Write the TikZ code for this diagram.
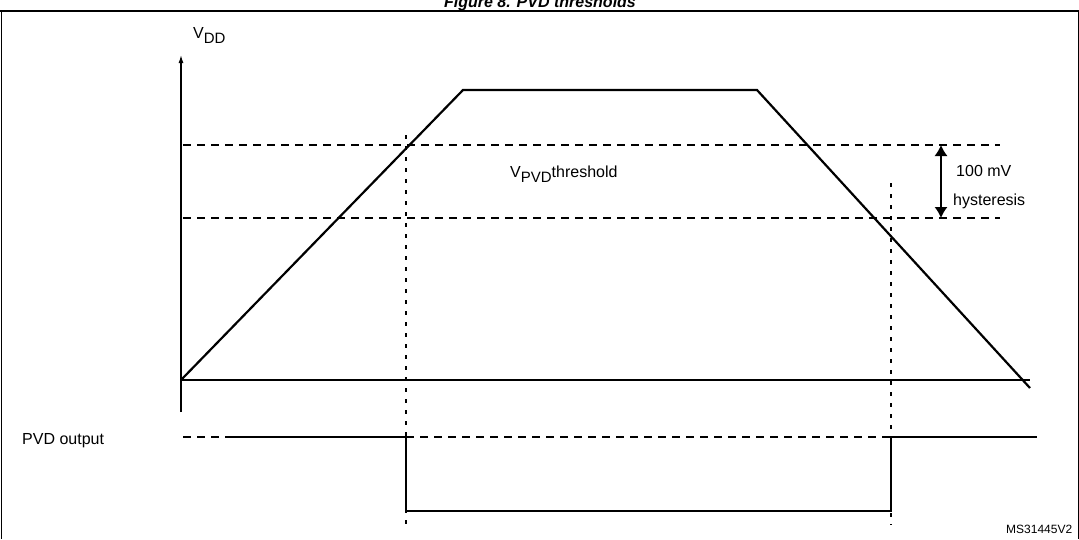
\documentclass[tikz,border=0pt]{standalone}
\usepackage{fontspec}
\setmainfont{Liberation Sans}
\usetikzlibrary{arrows.meta}
\newcommand{\mysub}[1]{\raisebox{-5pt}{\fontsize{15}{18}\selectfont #1}}
\begin{document}
\begin{tikzpicture}[x=1pt,y=-1pt,
  dsh/.style={dash pattern=on 8pt off 6pt,line width=1.3pt},
  dot/.style={dash pattern=on 4pt off 7pt,line width=1.3pt},
  sig/.style={line width=2.2pt},
  lbl/.style={inner sep=0pt,font=\fontsize{16}{19}\selectfont}]
\useasboundingbox (0,0) rectangle (1079,539);
\node[anchor=base,inner sep=0pt,font=\fontsize{16}{19}\selectfont\bfseries\itshape] (title) at (540,7) {Figure 8. PVD thresholds};
\draw[line width=1.8pt] (0,11) -- (1079,11);
\draw[line width=1pt] (1,11) -- (1,539) (1078,11) -- (1078,539);
% axes
\coordinate (o) at (181,380);
\coordinate (ytop) at (181,55);
\draw[line width=1.3pt,-{Latex[length=8pt,width=5pt]}] (181,412) -- (ytop);
\draw[line width=1.3pt] (o) -- (1030,380);
\node[lbl,anchor=base west] (vdd) at (193,38) {V\mysub{DD}};
% curve
\coordinate (p1) at (463,90);
\coordinate (p2) at (757,90);
\coordinate (p3) at (1030,388);
\draw[sig] (o) -- (p1) -- (p2) -- (p3);
% thresholds
\draw[dsh] (183,145) -- (1000,145);
\draw[dsh] (183,218) -- (1000,218);
\draw[dot] (406,135) -- (406,525);
\draw[dot] (891,183) -- (891,525);
\node[lbl,anchor=base west] (vpvd) at (510,177) {V\mysub{PVD}threshold};
\coordinate (ha) at (941,145);
\coordinate (hb) at (941,218);
\draw[line width=1.3pt,-{Latex[length=11pt,width=13pt]}] (941,181) -- (ha);
\draw[line width=1.3pt,-{Latex[length=11pt,width=13pt]}] (941,181) -- (hb);
\node[lbl,anchor=base west] (h1) at (956,176) {100 mV};
\node[lbl,anchor=base west] (h2) at (953,205) {hysteresis};
% PVD output
\node[lbl,anchor=base west] (pvd) at (22,444) {PVD output};
\draw[dsh] (183,437) -- (225,437);
\draw[dsh] (406,437) -- (891,437);
\draw[sig] (225,437) -- (406,437) -- (406,511) -- (891,511) -- (891,437) -- (1037,437);
\node[inner sep=0pt,anchor=base west,font=\fontsize{12}{14}\selectfont] (ms) at (1006,533) {MS31445V2};
\end{tikzpicture}
\end{document}
